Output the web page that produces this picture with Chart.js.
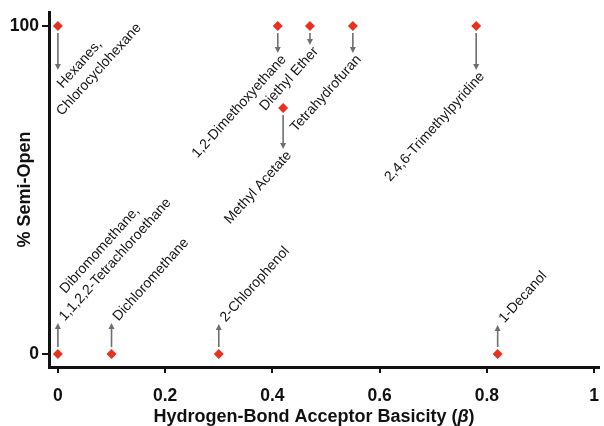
<!DOCTYPE html>
<html>
<head>
<meta charset="utf-8">
<script src="https://cdn.jsdelivr.net/npm/chart.js@4.4.1/dist/chart.umd.min.js"></script>
<style>
html, body { margin: 0; padding: 0; background: #fff; }
</style>
</head>
<body>
<canvas id="grafico" width="604" height="426"></canvas>
<script>
const solventes = [
    'Hexanes,\nChlorocyclohexane',
    '1,2-Dimethoxyethane',
    'Diethyl Ether',
    'Tetrahydrofuran',
    '2,4,6-Trimethylpyridine',
    'Methyl Acetate',
    'Dibromomethane,\n1,1,2,2-Tetrachloroethane',
    'Dichloromethane',
    '2-Chlorophenol',
    '1-Decanol'
];
const beta = [0, 0.41, 0.47, 0.55, 0.78, 0.42, 0, 0.10, 0.30, 0.82];
const semiOpen = [100, 100, 100, 100, 100, 75, 0, 0, 0, 0];
const xTicks = [0, 0.2, 0.4, 0.6, 0.8, 1];
const yTicks = [0, 100];

// como se dibuja cada etiqueta (no son datos)
const alineacion = ['start', 'end', 'end', 'end', 'end', 'end', 'start', 'start', 'start', 'start'];
const largoFlecha = [44, 27, 19, 27, 44, 41, 31, 31, 30, 29];

const FAMILIA = '"Liberation Sans", Arial, Helvetica, sans-serif';
const ANGULO = -48 * Math.PI / 180;

const etiquetasPlugin = {
    id: 'etiquetas',
    afterDatasetsDraw(chart) {
        const ctx = chart.ctx;
        const meta = chart.getDatasetMeta(0);
        meta.data.forEach((pt, i) => {
            const dir = semiOpen[i] > 50 ? 1 : -1;
            const x = pt.x;
            const yIni = pt.y + dir * 7;
            const yFin = pt.y + dir * largoFlecha[i];

            ctx.save();
            ctx.strokeStyle = '#6e6e6e';
            ctx.fillStyle = '#6e6e6e';
            ctx.lineWidth = 1.6;
            ctx.beginPath();
            ctx.moveTo(x, yIni);
            ctx.lineTo(x, yFin - dir * 5);
            ctx.stroke();
            ctx.beginPath();
            ctx.moveTo(x, yFin);
            ctx.lineTo(x - 3, yFin - dir * 6);
            ctx.lineTo(x + 3, yFin - dir * 6);
            ctx.closePath();
            ctx.fill();

            // texto girado
            let off;
            if (alineacion[i] === 'end') off = [6, 4];
            else if (dir > 0) off = [2, 16];
            else off = [4, -4];
            const lineas = solventes[i].split('\n');
            const base = dir > 0 ? 0 : lineas.length - 1;
            ctx.font = '14px ' + FAMILIA;
            ctx.fillStyle = '#151515';
            ctx.textBaseline = 'middle';
            ctx.textAlign = alineacion[i] === 'end' ? 'right' : 'left';
            ctx.translate(x + off[0], yFin + off[1]);
            ctx.rotate(ANGULO);
            lineas.forEach((linea, k) => {
                const d = k - base;
                ctx.fillText(linea, -21 * d, 18 * d);
            });
            ctx.restore();
        });
    },
    afterDraw(chart) {
        // titulo del eje x con beta en cursiva
        const ctx = chart.ctx;
        const partes = [
            ['Hydrogen-Bond Acceptor Basicity (', 'bold 18px ' + FAMILIA],
            ['\u03B2', 'italic bold 18px ' + FAMILIA],
            [')', 'bold 18px ' + FAMILIA]
        ];
        ctx.save();
        let total = 0;
        partes.forEach(p => { ctx.font = p[1]; total += ctx.measureText(p[0]).width; });
        let xx = 314 - total / 2;
        ctx.fillStyle = '#111';
        ctx.textBaseline = 'alphabetic';
        ctx.textAlign = 'left';
        partes.forEach(p => {
            ctx.font = p[1];
            ctx.fillText(p[0], xx, 422);
            xx += ctx.measureText(p[0]).width;
        });
        ctx.restore();
    }
};

const ctx = document.getElementById('grafico').getContext('2d');
new Chart(ctx, {
    type: 'scatter',
    data: {
        datasets: [{
            label: '% Semi-Open',
            data: beta.map((b, i) => ({ x: b, y: semiOpen[i] })),
            pointStyle: 'rectRot',
            pointRadius: 5,
            backgroundColor: '#e8321f',
            borderColor: '#e8321f',
            borderWidth: 0
        }]
    },
    options: {
        responsive: false,
        animation: false,
        devicePixelRatio: 1,
        layout: { padding: { top: 12, right: 0, left: 0, bottom: 0 } },
        plugins: {
            legend: { display: false },
            tooltip: { enabled: false }
        },
        scales: {
            x: {
                type: 'linear',
                min: -0.0166,
                max: 1.009,
                afterBuildTicks: s => { s.ticks = xTicks.map(v => ({ value: v })); },
                afterFit: s => { s.height = 59; s.paddingLeft = 0; s.paddingRight = 0; },
                ticks: {
                    font: { family: FAMILIA, size: 17.5, weight: 'bold' },
                    color: '#111',
                    padding: 13,
                    maxRotation: 0,
                    autoSkip: false,
                    callback: v => String(v)
                },
                grid: {
                    drawOnChartArea: false,
                    drawTicks: true,
                    tickLength: 6,
                    lineWidth: 2,
                    color: '#111'
                },
                border: { display: true, width: 3, color: '#111' }
            },
            y: {
                min: -3.96,
                max: 104.3,
                afterBuildTicks: s => { s.ticks = yTicks.map(v => ({ value: v })); },
                afterFit: s => { s.width = 49; s.paddingTop = 0; s.paddingBottom = 0; },
                ticks: {
                    font: { family: FAMILIA, size: 17.5, weight: 'bold' },
                    color: '#111',
                    padding: 3,
                    callback: v => String(v)
                },
                grid: {
                    drawOnChartArea: false,
                    drawTicks: true,
                    tickLength: 7,
                    lineWidth: 2,
                    color: '#111'
                },
                border: { display: true, width: 3, color: '#111' },
                title: {
                    display: true,
                    text: '% Semi-Open',
                    color: '#111',
                    font: { family: FAMILIA, size: 18, weight: 'bold', lineHeight: 1.2 },
                    padding: { top: 14, bottom: 0 }
                }
            }
        }
    },
    plugins: [etiquetasPlugin]
});
</script>
</body>
</html>
